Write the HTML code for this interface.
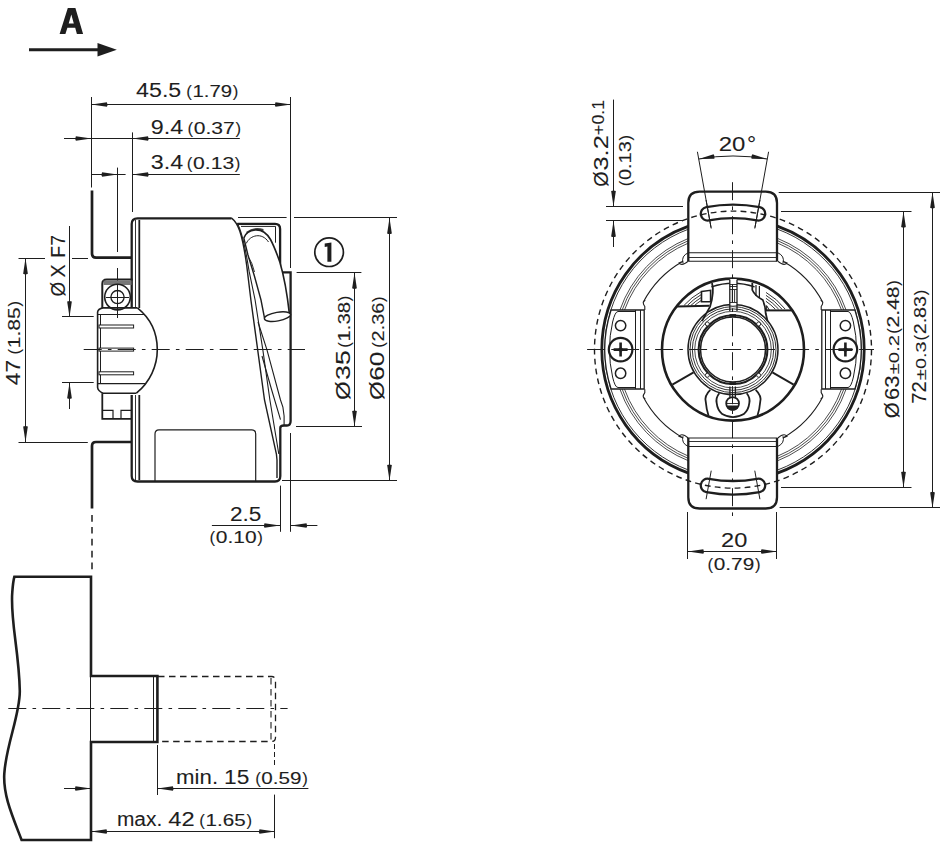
<!DOCTYPE html>
<html><head><meta charset="utf-8"><style>
html,body{margin:0;padding:0;background:#fff;width:940px;height:843px;overflow:hidden}
svg{display:block}
text{font-family:"Liberation Sans",sans-serif;fill:#1e1e1e;stroke:#1e1e1e;stroke-width:0.08px}
</style></head><body>
<svg width="940" height="843" viewBox="0 0 940 843" fill="none" stroke="#1e1e1e" stroke-linecap="butt">
<line x1="29.00" y1="49.80" x2="99.00" y2="49.80" stroke-width="3" />
<path d="M97.5,43 L116.8,49.8 L97.5,56.6 Z" fill="#1e1e1e" stroke="none"/>
<line x1="91.50" y1="97.00" x2="91.50" y2="187.50" stroke-width="1.0" />
<line x1="290.50" y1="97.00" x2="290.50" y2="268.00" stroke-width="1.0" />
<line x1="91.40" y1="104.50" x2="291.00" y2="104.50" stroke-width="1.0" />
<path d="M91.40,104.50 L106.90,102.15 Q108.10,104.50 106.90,106.85 Z" fill="#1e1e1e" stroke="none"/>
<path d="M291.00,104.50 L275.50,106.85 Q274.30,104.50 275.50,102.15 Z" fill="#1e1e1e" stroke="none"/>
<line x1="64.00" y1="138.50" x2="239.80" y2="138.50" stroke-width="1.0" />
<path d="M91.40,138.50 L75.90,140.85 Q74.70,138.50 75.90,136.15 Z" fill="#1e1e1e" stroke="none"/>
<path d="M132.50,138.50 L148.00,136.15 Q149.20,138.50 148.00,140.85 Z" fill="#1e1e1e" stroke="none"/>
<line x1="132.50" y1="132.40" x2="132.50" y2="212.00" stroke-width="1.0" />
<line x1="91.40" y1="174.50" x2="125.60" y2="174.50" stroke-width="1.0" />
<line x1="132.50" y1="174.50" x2="239.80" y2="174.50" stroke-width="1.0" />
<path d="M117.60,174.50 L102.10,176.85 Q100.90,174.50 102.10,172.15 Z" fill="#1e1e1e" stroke="none"/>
<path d="M132.50,174.50 L148.00,172.15 Q149.20,174.50 148.00,176.85 Z" fill="#1e1e1e" stroke="none"/>
<line x1="117.50" y1="167.60" x2="117.50" y2="252.00" stroke-width="1.0" />
<path d="M92,190.5 L92,253.5 Q92,257.6 96,257.6 L131.7,257.6" stroke-width="2.7" />
<path d="M131.7,442 L96,442 Q92,442 92,446 L92,508.4" stroke-width="2.7" />
<line x1="92" y1="515" x2="92" y2="571" stroke-width="1.5" stroke-dasharray="6.7 5.2"/>
<line x1="117.50" y1="268.00" x2="117.50" y2="318.00" stroke-width="1.0" />
<line x1="25.50" y1="258.30" x2="25.50" y2="442.00" stroke-width="1.0" />
<path d="M25.50,258.30 L27.85,273.80 Q25.50,275.00 23.15,273.80 Z" fill="#1e1e1e" stroke="none"/>
<path d="M25.50,442.00 L23.15,426.50 Q25.50,425.30 27.85,426.50 Z" fill="#1e1e1e" stroke="none"/>
<line x1="18.50" y1="258.50" x2="45.00" y2="258.50" stroke-width="1.0" />
<line x1="72.00" y1="258.50" x2="88.00" y2="258.50" stroke-width="1.0" />
<line x1="18.50" y1="442.50" x2="87.80" y2="442.50" stroke-width="1.0" />
<line x1="69.50" y1="226.00" x2="69.50" y2="317.00" stroke-width="1.0" />
<path d="M69.50,317.00 L67.15,301.50 Q69.50,300.30 71.85,301.50 Z" fill="#1e1e1e" stroke="none"/>
<line x1="69.50" y1="382.70" x2="69.50" y2="409.00" stroke-width="1.0" />
<path d="M69.50,382.70 L71.85,398.20 Q69.50,399.40 67.15,398.20 Z" fill="#1e1e1e" stroke="none"/>
<line x1="62.00" y1="316.50" x2="93.70" y2="316.50" stroke-width="1.0" />
<line x1="62.00" y1="382.50" x2="93.70" y2="382.50" stroke-width="1.0" />
<path d="M131.7,308 L131.7,224 Q131.7,218.3 137.5,218.3 L231.4,218.3" stroke-width="2.3" />
<line x1="135.50" y1="220.00" x2="135.50" y2="308.00" stroke-width="0.9" />
<line x1="139.30" y1="220.00" x2="139.30" y2="308.00" stroke-width="1.8" />
<path d="M131.7,395 L131.7,476 Q131.7,481.5 137.5,481.5 L275,481.5 Q280.3,481.5 280.3,476 L280.3,428 Q280.3,425.5 284,425.5 L287,425.5 Q290.6,425.5 290.6,421 L290.6,272.4 L280.1,272.4 L280.1,229 Q280.1,223.8 275,223.8 L237.3,223.8" stroke-width="2.3" />
<line x1="135.50" y1="395.00" x2="135.50" y2="480.00" stroke-width="0.9" />
<line x1="139.30" y1="395.00" x2="139.30" y2="480.00" stroke-width="1.8" />
<path d="M231.3,217.9 C238,223 242,232 246.7,265.3 L250.9,300 L264.5,400 L276.4,454 L277,460 L277,478" stroke-width="1.4" />
<path d="M237.3,223.3 C241,230 245,245 249.1,271.2 L255.1,300 L262.8,349.6 L269.9,400 L278.8,454" stroke-width="1.1" />
<path d="M262,356 L271.7,390 L280.5,419.6" stroke-width="1.1" />
<path d="M258,322 L266.9,349.6 L280.5,400 L282.9,407.2 L284.1,416 L284.1,425.5" stroke-width="1.1" />
<path d="M241,226.4 L275.5,226.4 L275.5,242.7" stroke-width="1.0" />
<path d="M246,232 Q254,226 263.5,229 L263.5,232.5 Q254,229.5 247.5,234 Z" fill="#444" stroke="none"/>
<path d="M243.8,238 C247,229 262,225 270.5,239.5 C274,246 277,254 279.8,262 C284,276 287,292 289.5,314.6" stroke-width="1.6" fill="#fff"/>
<path d="M246.3,243.4 C250,235 262,232 268.5,242" stroke-width="1.0" />
<path d="M249,258 Q252,262 254.5,272" stroke-width="0.9" />
<path d="M243.8,238 L247.9,254.7 L254.4,276 L261,300 L264.5,318" stroke-width="1.4" />
<ellipse cx="277.5" cy="316.6" rx="13.3" ry="4.3" transform="rotate(-10 277.5 316.6)" stroke-width="1.4" fill="#fff"/>
<path d="M155,481.5 L155,434 Q155,429.8 159,429.8 L251.7,429.8 Q255.7,429.8 255.7,434 L255.7,481.5" stroke-width="1.2" />
<path d="M102.3,307.9 L102.3,284 Q102.3,279.5 106.8,279.5 L132.7,279.5" stroke-width="2.0" />
<rect x="103.5" y="280.5" width="28" height="4.5" fill="#777" stroke="none"/>
<circle cx="117.50" cy="297.10" r="12.80" stroke-width="1.6" />
<circle cx="117.50" cy="297.10" r="6.60" stroke-width="1.3" />
<line x1="106.00" y1="297.50" x2="129.00" y2="297.50" stroke-width="1.0" />
<path d="M137.4,307.9 L103,307.9 Q98,309 97.6,312 L97.6,387.5 Q98,391 103,393.2 L136.4,393.2" stroke-width="1.6" />
<line x1="100.50" y1="314.50" x2="100.50" y2="384.00" stroke-width="1.0" />
<path d="M137.4,307.9 C150,318 157.3,333 157.3,349.6 C157.3,366 150,382 136.4,393.2" stroke-width="1.6" />
<line x1="97.60" y1="314.50" x2="145.00" y2="314.50" stroke-width="1.2" />
<line x1="97.60" y1="383.70" x2="145.00" y2="383.70" stroke-width="1.2" />
<rect x="99" y="325.0" width="34.6" height="3" stroke-width="1" fill="#fff"/>
<rect x="99" y="348.1" width="34.6" height="3" stroke-width="1" fill="#fff"/>
<rect x="99" y="371.8" width="34.6" height="3" stroke-width="1" fill="#fff"/>
<path d="M102.3,393.2 L102.3,418.8 L131.7,418.8" stroke-width="1.8" />
<path d="M102.3,410.3 L113,410.3 L113,418.8 M121,418.8 L121,410.3 L131.7,410.3" stroke-width="1.2" />
<line x1="83.70" y1="349.50" x2="305.00" y2="349.50" stroke-width="1.0" stroke-dasharray="18 6.2 3.6 6.2"/>
<circle cx="329.10" cy="252.20" r="14.30" stroke-width="1.7" />
<line x1="238.00" y1="217.50" x2="286.60" y2="217.50" stroke-width="1.0" />
<line x1="294.00" y1="217.50" x2="397.00" y2="217.50" stroke-width="1.0" />
<line x1="389.50" y1="217.90" x2="389.50" y2="480.50" stroke-width="1.0" />
<path d="M389.50,217.90 L391.85,233.40 Q389.50,234.60 387.15,233.40 Z" fill="#1e1e1e" stroke="none"/>
<path d="M389.50,480.50 L387.15,465.00 Q389.50,463.80 391.85,465.00 Z" fill="#1e1e1e" stroke="none"/>
<line x1="282.00" y1="480.50" x2="397.00" y2="480.50" stroke-width="1.0" />
<line x1="296.60" y1="272.50" x2="361.40" y2="272.50" stroke-width="1.0" />
<line x1="296.00" y1="426.50" x2="362.00" y2="426.50" stroke-width="1.0" />
<line x1="354.50" y1="272.80" x2="354.50" y2="426.50" stroke-width="1.0" />
<path d="M354.50,272.80 L356.85,288.30 Q354.50,289.50 352.15,288.30 Z" fill="#1e1e1e" stroke="none"/>
<path d="M354.50,426.50 L352.15,411.00 Q354.50,409.80 356.85,411.00 Z" fill="#1e1e1e" stroke="none"/>
<line x1="280.50" y1="485.60" x2="280.50" y2="531.80" stroke-width="1.0" />
<line x1="290.50" y1="433.00" x2="290.50" y2="531.80" stroke-width="1.0" />
<line x1="211.90" y1="525.50" x2="280.00" y2="525.50" stroke-width="1.0" />
<line x1="291.00" y1="525.50" x2="317.40" y2="525.50" stroke-width="1.0" />
<path d="M280.00,525.50 L264.50,527.85 Q263.30,525.50 264.50,523.15 Z" fill="#1e1e1e" stroke="none"/>
<path d="M291.00,525.50 L306.50,523.15 Q307.70,525.50 306.50,527.85 Z" fill="#1e1e1e" stroke="none"/>
<path d="M14.4,576.7 L91,576.7 L91,676 L157.4,676 L157.4,742 L91,742 L91,840 L21.6,840 C12,815 3,795 4.3,773.6 C6,745 20,715 19.8,691 C19,650 10,620 12.3,592 Q13,582 14.4,576.7 Z" stroke-width="2.6" />
<line x1="90.50" y1="676.00" x2="90.50" y2="742.00" stroke-width="1.0" />
<line x1="153.50" y1="677.00" x2="153.50" y2="741.00" stroke-width="1.0" />
<path d="M158,676.5 L271.5,676.5 Q275.5,676.5 275.5,680.5 L275.5,737.5 Q275.5,741.5 271.5,741.5 L158,741.5" stroke-width="1.3" stroke-dasharray="6.5 4.5"/>
<line x1="271" y1="678" x2="271" y2="741" stroke-width="1.1" stroke-dasharray="6.5 4.5"/>
<line x1="8.30" y1="708.50" x2="287.60" y2="708.50" stroke-width="1.0" stroke-dasharray="18 6.2 3.6 6.2"/>
<line x1="64.00" y1="788.50" x2="91.00" y2="788.50" stroke-width="1.0" />
<line x1="157.40" y1="788.50" x2="308.40" y2="788.50" stroke-width="1.0" />
<path d="M91.00,788.50 L75.50,790.85 Q74.30,788.50 75.50,786.15 Z" fill="#1e1e1e" stroke="none"/>
<path d="M157.40,788.50 L172.90,786.15 Q174.10,788.50 172.90,790.85 Z" fill="#1e1e1e" stroke="none"/>
<line x1="157.50" y1="745.00" x2="157.50" y2="795.00" stroke-width="1.0" />
<line x1="274.50" y1="744.00" x2="274.50" y2="767.00" stroke-width="1.0" stroke-dasharray="5 3"/>
<line x1="274.50" y1="794.60" x2="274.50" y2="838.20" stroke-width="1.0" />
<line x1="91.00" y1="831.50" x2="275.00" y2="831.50" stroke-width="1.0" />
<path d="M91.00,831.50 L106.50,829.15 Q107.70,831.50 106.50,833.85 Z" fill="#1e1e1e" stroke="none"/>
<path d="M275.00,831.50 L259.50,833.85 Q258.30,831.50 259.50,829.15 Z" fill="#1e1e1e" stroke="none"/>
<path d="M601.80,349.58 A131.2,131.2 0 0 1 688.65,226.12" stroke-width="2.8" />
<path d="M777.35,226.12 A131.2,131.2 0 0 1 864.20,349.58" stroke-width="2.8" />
<path d="M864.20,349.62 A131.2,131.2 0 0 1 777.35,473.08" stroke-width="2.8" />
<path d="M688.65,473.08 A131.2,131.2 0 0 1 601.80,349.62" stroke-width="2.8" />
<path d="M604.60,349.58 A128.4,128.4 0 0 1 688.65,229.10" stroke-width="0.9" />
<path d="M777.35,229.10 A128.4,128.4 0 0 1 861.40,349.58" stroke-width="0.9" />
<path d="M861.40,349.62 A128.4,128.4 0 0 1 777.35,470.10" stroke-width="0.9" />
<path d="M688.65,470.10 A128.4,128.4 0 0 1 604.60,349.62" stroke-width="0.9" />
<path d="M624.50,310.00 A115.5,115.5 0 0 1 688.65,242.95" stroke-width="0.8" />
<path d="M777.35,242.95 A115.5,115.5 0 0 1 841.50,310.00" stroke-width="0.8" />
<path d="M841.50,389.20 A115.5,115.5 0 0 1 777.35,456.25" stroke-width="0.8" />
<path d="M688.65,456.25 A115.5,115.5 0 0 1 624.50,389.20" stroke-width="0.8" />
<path d="M622.16,310.00 A117.7,117.7 0 0 1 688.65,240.58" stroke-width="0.8" />
<path d="M777.35,240.58 A117.7,117.7 0 0 1 843.84,310.00" stroke-width="0.8" />
<path d="M843.84,389.20 A117.7,117.7 0 0 1 777.35,458.62" stroke-width="0.8" />
<path d="M688.65,458.62 A117.7,117.7 0 0 1 622.16,389.20" stroke-width="0.8" />
<path d="M619.93,310.00 A119.8,119.8 0 0 1 688.65,238.31" stroke-width="0.8" />
<path d="M777.35,238.31 A119.8,119.8 0 0 1 846.07,310.00" stroke-width="0.8" />
<path d="M846.07,389.20 A119.8,119.8 0 0 1 777.35,460.89" stroke-width="0.8" />
<path d="M688.65,460.89 A119.8,119.8 0 0 1 619.93,389.20" stroke-width="0.8" />
<path d="M644.80,310.00 L644.80,306.50 Q641.50,302.00 645.20,300.00 L643.04,302.60 A101.5,101.5 0 0 1 683.00,261.27 L679.00,263.00 Q682.00,266.50 688.30,261.20" stroke-width="1.1" />
<path d="M688.30,252.70 Q681.00,256.00 683.00,263.00" stroke-width="1.0" />
<path d="M644.80,389.20 L644.80,392.70 Q641.50,397.20 645.20,399.20 L643.04,396.60 A101.5,101.5 0 0 0 683.00,437.93 L679.00,436.20 Q682.00,432.70 688.30,438.00" stroke-width="1.1" />
<path d="M688.30,446.50 Q681.00,443.20 683.00,436.20" stroke-width="1.0" />
<path d="M821.20,310.00 L821.20,306.50 Q824.50,302.00 820.80,300.00 L822.96,302.60 A101.5,101.5 0 0 0 783.00,261.27 L787.00,263.00 Q784.00,266.50 777.70,261.20" stroke-width="1.1" />
<path d="M777.70,252.70 Q785.00,256.00 783.00,263.00" stroke-width="1.0" />
<path d="M821.20,389.20 L821.20,392.70 Q824.50,397.20 820.80,399.20 L822.96,396.60 A101.5,101.5 0 0 1 783.00,437.93 L787.00,436.20 Q784.00,432.70 777.70,438.00" stroke-width="1.1" />
<path d="M777.70,446.50 Q785.00,443.20 783.00,436.20" stroke-width="1.0" />
<path d="M688.3,261.2 L688.3,203 Q688.3,191.7 699.6,191.7 L765.7,191.7 Q777,191.7 777,203 L777,261.2" stroke-width="2.3" fill="#fff"/>
<line x1="688.30" y1="252.70" x2="777.00" y2="252.70" stroke-width="1.1" />
<line x1="688.30" y1="261.20" x2="777.00" y2="261.20" stroke-width="1.1" />
<line x1="688.30" y1="257.50" x2="777.00" y2="257.50" stroke-width="0.9" />
<path d="M688.3,438 L688.3,497.2 Q688.3,508.5 699.6,508.5 L765.7,508.5 Q777,508.5 777,497.2 L777,438" stroke-width="2.3" fill="#fff"/>
<line x1="688.30" y1="446.50" x2="777.00" y2="446.50" stroke-width="1.1" />
<line x1="688.30" y1="438.00" x2="777.00" y2="438.00" stroke-width="1.1" />
<line x1="688.30" y1="441.50" x2="777.00" y2="441.50" stroke-width="0.9" />
<path d="M706.33,207.07 A145.0,145.0 0 0 1 759.67,207.07 A6.8,6.8 0 0 1 757.17,220.44 A131.39999999999998,131.39999999999998 0 0 0 708.83,220.44 A6.8,6.8 0 0 1 706.33,207.07 Z" stroke-width="2.3" />
<path d="M759.67,492.13 A145.0,145.0 0 0 1 706.33,492.13 A6.8,6.8 0 0 1 708.83,478.76 A131.39999999999998,131.39999999999998 0 0 0 757.17,478.76 A6.8,6.8 0 0 1 759.67,492.13 Z" stroke-width="2.3" />
<line x1="711.22" y1="228.54" x2="706.08" y2="200.00" stroke-width="1.0" />
<line x1="754.78" y1="228.54" x2="759.92" y2="200.00" stroke-width="1.0" />
<line x1="754.78" y1="470.66" x2="759.92" y2="499.20" stroke-width="1.0" />
<line x1="711.22" y1="470.66" x2="706.08" y2="499.20" stroke-width="1.0" />
<circle cx="733.00" cy="349.60" r="138.50" stroke-width="1.4" stroke-dasharray="5.8 4.2"/>
<path d="M644.20,310 L611.07,310 A128.2,128.2 0 0 0 611.07,389 L644.20,389 Z" stroke-width="1.3" fill="#fff"/>
<path d="M635.50,311.5 L618.00,311.5 Q615.05,311.5 612.62,322 A123.5,123.5 0 0 0 612.58,377 Q614.99,387.5 618.00,387.5 L635.50,387.5" stroke-width="1.0" />
<line x1="635.50" y1="310.00" x2="635.50" y2="389.00" stroke-width="1.0" />
<line x1="640.50" y1="310.00" x2="640.50" y2="389.00" stroke-width="1.0" />
<circle cx="620.60" cy="349.60" r="11.80" stroke-width="2.2" />
<path d="M613.60,349.6 L627.60,349.6 M620.60,342.6 L620.60,356.6" stroke-width="2.6"/>
<circle cx="620.60" cy="349.60" r="2.20" stroke-width="0" fill="#1e1e1e"/>
<circle cx="620.60" cy="325.60" r="5.20" stroke-width="1.5" />
<circle cx="620.60" cy="373.30" r="5.20" stroke-width="1.5" />
<path d="M821.80,310 L854.93,310 A128.2,128.2 0 0 1 854.93,389 L821.80,389 Z" stroke-width="1.3" fill="#fff"/>
<path d="M830.50,311.5 L848.00,311.5 Q850.95,311.5 853.38,322 A123.5,123.5 0 0 1 853.42,377 Q851.01,387.5 848.00,387.5 L830.50,387.5" stroke-width="1.0" />
<line x1="830.50" y1="310.00" x2="830.50" y2="389.00" stroke-width="1.0" />
<line x1="825.50" y1="310.00" x2="825.50" y2="389.00" stroke-width="1.0" />
<circle cx="845.40" cy="349.60" r="11.80" stroke-width="2.2" />
<path d="M838.40,349.6 L852.40,349.6 M845.40,342.6 L845.40,356.6" stroke-width="2.6"/>
<circle cx="845.40" cy="349.60" r="2.20" stroke-width="0" fill="#1e1e1e"/>
<circle cx="845.40" cy="325.60" r="5.20" stroke-width="1.5" />
<circle cx="845.40" cy="373.30" r="5.20" stroke-width="1.5" />
<circle cx="733.00" cy="349.60" r="71.00" stroke-width="2.6" fill="#fff"/>
<path d="M694.59,305.48 A58.5,58.5 0 0 1 701.07,300.58" stroke-width="0.9" />
<path d="M765.92,301.24 A58.5,58.5 0 0 1 775.38,309.28" stroke-width="0.9" />
<path d="M690.98,305.38 A61,61 0 0 1 701.05,297.64" stroke-width="0.9" />
<path d="M765.95,298.26 A61,61 0 0 1 778.69,309.19" stroke-width="0.9" />
<path d="M687.51,305.29 A63.5,63.5 0 0 1 701.02,294.74" stroke-width="0.9" />
<path d="M765.97,295.33 A63.5,63.5 0 0 1 781.91,309.11" stroke-width="0.9" />
<path d="M684.16,305.21 A66,66 0 0 1 701.00,291.88" stroke-width="0.9" />
<path d="M766.00,292.44 A66,66 0 0 1 785.05,309.02" stroke-width="0.9" />
<path d="M676.6,306.5 L709.5,305.8" stroke-width="2.0" />
<path d="M765.5,310.4 L792.2,310.4" stroke-width="2.0" />
<path d="M711.41,286.91 A66.3,66.3 0 0 1 754.59,286.91" stroke-width="1.3" />
<path d="M712,283 Q714.5,292 710.1,306.6 Q706,314 702,321" stroke-width="1.8" />
<path d="M752.3,283 L752.3,290 Q755,296 762.8,300 Q765.5,306 765.7,313.3 L767.5,321" stroke-width="1.8" />
<path d="M756,285 L756,296 M759.4,286 L759.4,298" stroke-width="1.2" />
<path d="M701.5,291.5 L710.6,290.3 L710.6,301.8 L701.5,301.8 Z" stroke-width="1.6" fill="#fff"/>
<path d="M766.6,305.6 L769.5,310.4 L766.6,310.4 Z" stroke-width="1.0" />
<line x1="693.60" y1="372.35" x2="672.38" y2="384.60" stroke-width="1.9" />
<line x1="772.40" y1="372.35" x2="793.62" y2="384.60" stroke-width="1.9" />
<path d="M710.3,389.9 Q704,396 705.8,402 Q706.5,410 708.5,415.5" stroke-width="1.8" />
<path d="M755.7,389.9 Q762,396 760.2,402 Q759.5,410 757.5,415.5" stroke-width="1.8" />
<path d="M719.3,393.3 Q715.5,398 716.7,403.1 Q717.5,410 722.2,414.1 Q727,417.1 733,417.1 Q739,417.1 743.8,414.1 Q748.5,410 749.3,403.1 Q750.5,398 746.7,393.3" stroke-width="1.8" />
<circle cx="732.60" cy="403.50" r="6.40" stroke-width="1.8" fill="#fff"/>
<path d="M726.5,405.5 L738.7,405.5 A6.2,6.2 0 0 1 726.5,405.5 Z" fill="#1e1e1e" stroke="none"/>
<line x1="726.20" y1="403.50" x2="739.00" y2="403.50" stroke-width="0.9" />
<path d="M729.9,386.5 L729.9,397.3 M735.4,386.5 L735.4,397.3" stroke-width="1.3" />
<line x1="732.50" y1="386.50" x2="732.50" y2="397.00" stroke-width="0.8" />
<circle cx="733.00" cy="349.60" r="45.00" stroke-width="1.5" />
<circle cx="733.00" cy="349.60" r="43.00" stroke-width="0.9" />
<circle cx="733.00" cy="349.60" r="40.70" stroke-width="0.9" />
<circle cx="733.00" cy="349.60" r="38.30" stroke-width="0.8" />
<circle cx="733.00" cy="349.60" r="34.40" stroke-width="2.1" />
<circle cx="733.00" cy="349.60" r="32.50" stroke-width="1.5" />
<circle cx="707.33" cy="323.93" r="2.00" stroke-width="0.9" fill="#fff"/>
<circle cx="758.67" cy="323.93" r="2.00" stroke-width="0.9" fill="#fff"/>
<circle cx="758.67" cy="375.27" r="2.00" stroke-width="0.9" fill="#fff"/>
<circle cx="707.33" cy="375.27" r="2.00" stroke-width="0.9" fill="#fff"/>
<rect x="729.8" y="279" width="7.2" height="26" fill="#fff" stroke="none"/>
<path d="M729.8,279.5 L729.8,311 M737,279.5 L737,311" stroke-width="1.3" />
<path d="M732.3,290 L732.3,302 M734.6,290 L734.6,302" stroke-width="0.9" />
<line x1="729.80" y1="284.50" x2="737.00" y2="284.50" stroke-width="0.9" />
<line x1="729.80" y1="286.50" x2="737.00" y2="286.50" stroke-width="0.9" />
<line x1="729.80" y1="289.50" x2="737.00" y2="289.50" stroke-width="0.9" />
<line x1="729.80" y1="302.50" x2="737.00" y2="302.50" stroke-width="0.9" />
<line x1="729.50" y1="382.50" x2="736.00" y2="382.50" stroke-width="0.9" />
<line x1="729.50" y1="384.50" x2="736.00" y2="384.50" stroke-width="0.9" />
<line x1="729.50" y1="314.50" x2="736.00" y2="314.50" stroke-width="0.9" />
<line x1="729.50" y1="316.50" x2="736.00" y2="316.50" stroke-width="0.9" />
<line x1="587.10" y1="349.50" x2="874.00" y2="349.50" stroke-width="1.0" stroke-dasharray="18 6.2 3.6 6.2"/>
<line x1="732.50" y1="182.20" x2="732.50" y2="517.50" stroke-width="1.0" stroke-dasharray="18 6.2 3.6 6.2"/>
<line x1="606.00" y1="206.50" x2="683.00" y2="206.50" stroke-width="1.0" />
<line x1="606.00" y1="220.50" x2="683.00" y2="220.50" stroke-width="1.0" />
<line x1="613.50" y1="99.60" x2="613.50" y2="206.60" stroke-width="1.0" />
<line x1="613.50" y1="221.00" x2="613.50" y2="247.00" stroke-width="1.0" />
<path d="M613.50,206.60 L611.15,191.10 Q613.50,189.90 615.85,191.10 Z" fill="#1e1e1e" stroke="none"/>
<path d="M613.50,221.00 L615.85,236.50 Q613.50,237.70 611.15,236.50 Z" fill="#1e1e1e" stroke="none"/>
<line x1="711.04" y1="227.56" x2="697.41" y2="151.78" stroke-width="1.0" />
<line x1="754.96" y1="227.56" x2="768.59" y2="151.78" stroke-width="1.0" />
<path d="M698.72,159.06 A193.6,193.6 0 0 1 767.28,159.06" stroke-width="1.0" />
<path d="M698.72,159.06 L713.60,154.15 Q715.18,156.26 714.39,158.78 Z" fill="#1e1e1e" stroke="none"/>
<path d="M767.28,159.06 L751.61,158.78 Q750.82,156.26 752.40,154.15 Z" fill="#1e1e1e" stroke="none"/>
<line x1="687.50" y1="512.00" x2="687.50" y2="559.00" stroke-width="1.0" />
<line x1="776.50" y1="512.00" x2="776.50" y2="559.00" stroke-width="1.0" />
<line x1="687.80" y1="551.50" x2="777.00" y2="551.50" stroke-width="1.0" />
<path d="M687.80,551.50 L703.30,549.15 Q704.50,551.50 703.30,553.85 Z" fill="#1e1e1e" stroke="none"/>
<path d="M777.00,551.50 L761.50,553.85 Q760.30,551.50 761.50,549.15 Z" fill="#1e1e1e" stroke="none"/>
<line x1="781.00" y1="211.50" x2="911.50" y2="211.50" stroke-width="1.0" />
<line x1="781.00" y1="487.50" x2="911.50" y2="487.50" stroke-width="1.0" />
<line x1="903.50" y1="211.50" x2="903.50" y2="487.60" stroke-width="1.0" />
<path d="M903.50,211.50 L905.85,227.00 Q903.50,228.20 901.15,227.00 Z" fill="#1e1e1e" stroke="none"/>
<path d="M903.50,487.60 L901.15,472.10 Q903.50,470.90 905.85,472.10 Z" fill="#1e1e1e" stroke="none"/>
<line x1="778.70" y1="192.50" x2="940.00" y2="192.50" stroke-width="1.0" />
<line x1="779.60" y1="507.50" x2="940.00" y2="507.50" stroke-width="1.0" />
<line x1="932.50" y1="192.30" x2="932.50" y2="507.90" stroke-width="1.0" />
<path d="M932.50,192.30 L934.85,207.80 Q932.50,209.00 930.15,207.80 Z" fill="#1e1e1e" stroke="none"/>
<path d="M932.50,507.90 L930.15,492.40 Q932.50,491.20 934.85,492.40 Z" fill="#1e1e1e" stroke="none"/>
<path d="M59.6,34 L67.8,8.1 L75.4,8.1 L83.1,34 L76.9,34 L75.2,27.8 L67.4,27.8 L65.4,34 Z M68.7,23.5 L73.8,23.5 L71.3,14.6 Z" fill="#1e1e1e" fill-rule="evenodd" stroke="none"/>
<text x="136.12" y="96.70" font-size="19.5" font-weight="normal" textLength="45.16" lengthAdjust="spacingAndGlyphs">45.5</text>
<text x="186.26" y="96.70" font-size="16.8">(</text><text x="232.83" y="96.70" font-size="16.8">)</text><text x="192.47" y="96.70" font-size="16.3" textLength="39.67" lengthAdjust="spacingAndGlyphs" style="stroke-width:0.12px">1.79</text>
<text x="150.82" y="133.70" font-size="19.5" font-weight="normal" textLength="32.36" lengthAdjust="spacingAndGlyphs">9.4</text>
<text x="187.56" y="133.70" font-size="16.8">(</text><text x="235.43" y="133.70" font-size="16.8">)</text><text x="193.77" y="133.70" font-size="16.3" textLength="40.97" lengthAdjust="spacingAndGlyphs" style="stroke-width:0.12px">0.37</text>
<text x="150.82" y="168.80" font-size="19.5" font-weight="normal" textLength="32.36" lengthAdjust="spacingAndGlyphs">3.4</text>
<text x="186.86" y="168.80" font-size="16.8">(</text><text x="234.83" y="168.80" font-size="16.8">)</text><text x="193.07" y="168.80" font-size="16.3" textLength="41.07" lengthAdjust="spacingAndGlyphs" style="stroke-width:0.12px">0.13</text>
<text x="229.92" y="520.50" font-size="19.5" font-weight="normal" textLength="31.45" lengthAdjust="spacingAndGlyphs">2.5</text>
<text x="209.56" y="542.60" font-size="16.8">(</text><text x="257.33" y="542.60" font-size="16.8">)</text><text x="215.77" y="542.60" font-size="16.3" textLength="40.87" lengthAdjust="spacingAndGlyphs" style="stroke-width:0.12px">0.10</text>
<text x="176.12" y="783.50" font-size="19.5" font-weight="normal" textLength="41.95" lengthAdjust="spacingAndGlyphs">min.</text>
<text x="224.12" y="783.50" font-size="19.5" font-weight="normal" textLength="25.25" lengthAdjust="spacingAndGlyphs">15</text>
<text x="255.16" y="783.50" font-size="16.8">(</text><text x="302.23" y="783.50" font-size="16.8">)</text><text x="261.37" y="783.50" font-size="16.3" textLength="40.17" lengthAdjust="spacingAndGlyphs" style="stroke-width:0.12px">0.59</text>
<text x="116.92" y="825.90" font-size="19.5" font-weight="normal" textLength="45.36" lengthAdjust="spacingAndGlyphs">max.</text>
<text x="168.32" y="825.90" font-size="19.5" font-weight="normal" textLength="26.36" lengthAdjust="spacingAndGlyphs">42</text>
<text x="199.36" y="825.90" font-size="16.8">(</text><text x="246.43" y="825.90" font-size="16.8">)</text><text x="205.57" y="825.90" font-size="16.3" textLength="40.17" lengthAdjust="spacingAndGlyphs" style="stroke-width:0.12px">1.65</text>
<text x="718.72" y="150.50" font-size="19.5" font-weight="normal" textLength="26.65" lengthAdjust="spacingAndGlyphs">20</text>
<text x="747.02" y="150.50" font-size="19.5" font-weight="normal" textLength="9.15" lengthAdjust="spacingAndGlyphs">°</text>
<text x="721.12" y="547.40" font-size="19.5" font-weight="normal" textLength="26.25" lengthAdjust="spacingAndGlyphs">20</text>
<text x="707.56" y="569.80" font-size="16.8">(</text><text x="754.93" y="569.80" font-size="16.8">)</text><text x="713.77" y="569.80" font-size="16.3" textLength="40.47" lengthAdjust="spacingAndGlyphs" style="stroke-width:0.12px">0.79</text>
<path d="M324.7,243.4 L331.4,242.5 L331.4,261.8 L327.4,261.8 L327.4,246.6 L324.7,246.9 Z" fill="#1e1e1e" stroke="none"/>
<g transform="translate(20.30,0) rotate(-90)"><text x="-385.18" y="0.00" font-size="19.5" font-weight="normal" textLength="25.25" lengthAdjust="spacingAndGlyphs">47</text></g>
<g transform="translate(20.30,0) rotate(-90)"><text x="-354.44" y="0.00" font-size="16.8">(</text><text x="-306.47" y="0.00" font-size="16.8">)</text><text x="-348.23" y="0.00" font-size="16.3" textLength="41.07" lengthAdjust="spacingAndGlyphs" style="stroke-width:0.12px">1.85</text></g>
<g transform="translate(64.60,0) rotate(-90)"><text x="-296.48" y="0.00" font-size="19.5" font-weight="normal" textLength="14.56" lengthAdjust="spacingAndGlyphs">Ø</text></g>
<g transform="translate(64.60,0) rotate(-90)"><text x="-277.58" y="0.00" font-size="19.5" font-weight="normal" textLength="13.15" lengthAdjust="spacingAndGlyphs">X</text></g>
<g transform="translate(64.60,0) rotate(-90)"><text x="-257.68" y="0.00" font-size="19.5" font-weight="normal" textLength="22.66" lengthAdjust="spacingAndGlyphs">F7</text></g>
<g transform="translate(349.50,0) rotate(-90)"><text x="-399.98" y="0.00" font-size="19.5" font-weight="normal" textLength="18.75" lengthAdjust="spacingAndGlyphs">Ø</text></g>
<g transform="translate(349.50,0) rotate(-90)"><text x="-379.98" y="0.00" font-size="19.5" font-weight="normal" textLength="29.86" lengthAdjust="spacingAndGlyphs">35</text></g>
<g transform="translate(349.50,0) rotate(-90)"><text x="-347.64" y="0.00" font-size="16.8">(</text><text x="-301.27" y="0.00" font-size="16.8">)</text><text x="-341.43" y="0.00" font-size="16.3" textLength="39.47" lengthAdjust="spacingAndGlyphs" style="stroke-width:0.12px">1.38</text></g>
<g transform="translate(383.80,0) rotate(-90)"><text x="-399.98" y="0.00" font-size="19.5" font-weight="normal" textLength="18.75" lengthAdjust="spacingAndGlyphs">Ø</text></g>
<g transform="translate(383.80,0) rotate(-90)"><text x="-380.78" y="0.00" font-size="19.5" font-weight="normal" textLength="29.25" lengthAdjust="spacingAndGlyphs">60</text></g>
<g transform="translate(383.80,0) rotate(-90)"><text x="-347.64" y="0.00" font-size="16.8">(</text><text x="-301.97" y="0.00" font-size="16.8">)</text><text x="-341.43" y="0.00" font-size="16.3" textLength="38.77" lengthAdjust="spacingAndGlyphs" style="stroke-width:0.12px">2.36</text></g>
<g transform="translate(608.30,0) rotate(-90)"><text x="-186.78" y="0.00" font-size="19.5" font-weight="normal" textLength="15.46" lengthAdjust="spacingAndGlyphs">Ø</text></g>
<g transform="translate(608.30,0) rotate(-90)"><text x="-170.58" y="0.00" font-size="19.5" font-weight="normal" textLength="35.35" lengthAdjust="spacingAndGlyphs">3.2</text></g>
<g transform="translate(604.30,0) rotate(-90)"><text x="-134.92" y="0.00" font-size="16" font-weight="normal" textLength="35.04" lengthAdjust="spacingAndGlyphs">+0.1</text></g>
<g transform="translate(631.20,0) rotate(-90)"><text x="-186.34" y="0.00" font-size="16.8">(</text><text x="-140.47" y="0.00" font-size="16.8">)</text><text x="-180.13" y="0.00" font-size="16.3" textLength="38.97" lengthAdjust="spacingAndGlyphs" style="stroke-width:0.12px">0.13</text></g>
<g transform="translate(898.80,0) rotate(-90)"><text x="-418.18" y="0.00" font-size="19.5" font-weight="normal" textLength="16.06" lengthAdjust="spacingAndGlyphs">Ø</text></g>
<g transform="translate(898.80,0) rotate(-90)"><text x="-400.08" y="0.00" font-size="19.5" font-weight="normal" textLength="24.56" lengthAdjust="spacingAndGlyphs">63</text></g>
<g transform="translate(898.80,0) rotate(-90)"><text x="-374.28" y="0.00" font-size="15" font-weight="normal" textLength="39.35" lengthAdjust="spacingAndGlyphs">±0.2</text></g>
<g transform="translate(898.80,0) rotate(-90)"><text x="-333.84" y="0.00" font-size="16.8">(</text><text x="-285.77" y="0.00" font-size="16.8">)</text><text x="-327.63" y="0.00" font-size="16.3" textLength="41.17" lengthAdjust="spacingAndGlyphs" style="stroke-width:0.12px">2.48</text></g>
<g transform="translate(926.30,0) rotate(-90)"><text x="-403.88" y="0.00" font-size="19.5" font-weight="normal" textLength="22.65" lengthAdjust="spacingAndGlyphs">72</text></g>
<g transform="translate(926.30,0) rotate(-90)"><text x="-379.98" y="0.00" font-size="15" font-weight="normal" textLength="38.45" lengthAdjust="spacingAndGlyphs">±0.3</text></g>
<g transform="translate(926.30,0) rotate(-90)"><text x="-340.54" y="0.00" font-size="16.8">(</text><text x="-295.27" y="0.00" font-size="16.8">)</text><text x="-334.33" y="0.00" font-size="16.3" textLength="38.37" lengthAdjust="spacingAndGlyphs" style="stroke-width:0.12px">2.83</text></g>
</svg></body></html>
